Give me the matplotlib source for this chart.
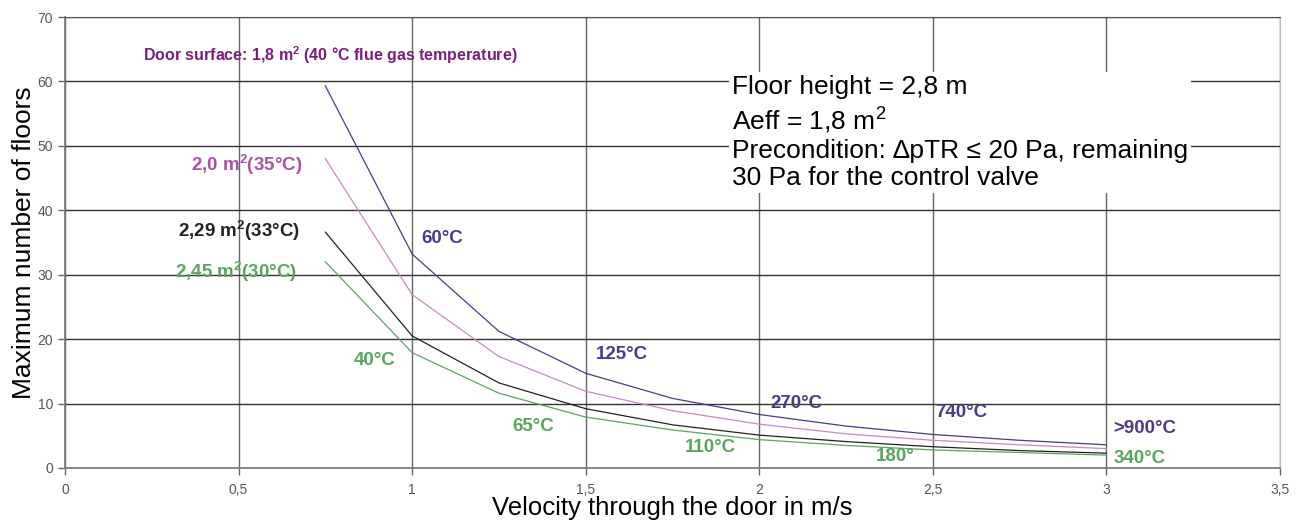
import matplotlib
matplotlib.use("Agg")
import matplotlib.pyplot as plt
from matplotlib.ticker import FuncFormatter

plt.rcParams['font.family'] = ['Liberation Sans', 'DejaVu Sans']

velocity = [0.75, 1.0, 1.25, 1.5, 1.75, 2.0, 2.25, 2.5, 2.75, 3.0]
floors_18 = [59.3, 33.2, 21.2, 14.7, 10.8, 8.3, 6.5, 5.2, 4.3, 3.6]
floors_20 = [48.0, 26.9, 17.3, 11.9, 8.9, 6.8, 5.3, 4.3, 3.6, 3.0]
floors_229 = [36.6, 20.5, 13.2, 9.2, 6.7, 5.1, 4.1, 3.3, 2.7, 2.3]
floors_245 = [32.0, 17.9, 11.6, 7.9, 5.9, 4.4, 3.5, 2.8, 2.4, 2.0]

x_ticks = [0, 0.5, 1, 1.5, 2, 2.5, 3, 3.5]
y_ticks = [0, 10, 20, 30, 40, 50, 60, 70]

upper_temps = ["60°C", "125°C", "270°C", "740°C", ">900°C"]
upper_pos = [(1.026, 35.6), (1.530, 17.6), (2.032, 10.0), (2.507, 8.6), (3.02, 6.2)]
lower_temps = ["40°C", "65°C", "110°C", "180°", "340°C"]
lower_pos = [(0.833, 16.7), (1.288, 6.5), (1.787, 3.2), (2.337, 1.8), (3.02, 1.5)]

c_purple = '#4a3b8c'
c_pink = '#c58ac5'
c_green = '#5aa55e'
c_black = '#222222'

fig = plt.figure(figsize=(13.06, 5.25), dpi=100)
ax = fig.add_axes([0.0498, 0.1086, 0.9303, 0.859])

ax.plot(velocity, floors_18, color=c_purple, lw=0.9, zorder=3)
ax.plot(velocity, floors_20, color=c_pink, lw=0.9, zorder=3)
ax.plot(velocity, floors_229, color=c_black, lw=0.9, zorder=3)
ax.plot(velocity, floors_245, color=c_green, lw=0.9, zorder=3)

ax.set_xlim(0, 3.5)
ax.set_ylim(0, 70)
ax.set_xticks(x_ticks)
ax.set_yticks(y_ticks)
fmt = FuncFormatter(lambda v, p: ('%g' % v).replace('.', ','))
ax.xaxis.set_major_formatter(fmt)
ax.yaxis.set_major_formatter(fmt)
ax.tick_params(axis='both', labelsize=10, colors='#666666', labelcolor='#555555',
               length=5, width=1, direction='out')
ax.tick_params(axis='x', pad=6)

ax.grid(axis='y', color='#333333', lw=1.0, zorder=1)
ax.grid(axis='x', color='#666666', lw=1.0, zorder=1)
for s in ['left', 'bottom']:
    ax.spines[s].set_color('#777777')
    ax.spines[s].set_linewidth(1.2)
ax.spines['top'].set_color('#555555')
ax.spines['right'].set_color('#bbbbbb')

ax.set_xlabel("Velocity through the door in m/s", fontsize=18.5)
ax.set_ylabel("Maximum number of floors", fontsize=19)
ax.xaxis.set_label_coords(0.5, -0.062)
ax.yaxis.set_label_coords(-0.024, 0.5)

lab_fs = 13.5
ax.text(0.225, 64.1, "Door surface: 1,8 m$^\\mathregular{2}$ (40 °C flue gas temperature)",
        color='#7a1f7a', fontsize=11.5, fontweight='bold', va='center', ha='left', zorder=5)
ax.text(0.683, 47.1, "2,0 m$^\\mathregular{2}$(35°C)", color='#a655a6', fontsize=lab_fs,
        fontweight='bold', ha='right', va='center', zorder=5)
ax.text(0.677, 36.9, "2,29 m$^\\mathregular{2}$(33°C)", color=c_black, fontsize=lab_fs,
        fontweight='bold', ha='right', va='center', zorder=5)
ax.text(0.669, 30.5, "2,45 m$^\\mathregular{2}$(30°C)", color=c_green, fontsize=lab_fs,
        fontweight='bold', ha='right', va='center', zorder=2)

for t, (x, y) in zip(upper_temps, upper_pos):
    ax.text(x, y, t, color=c_purple, fontsize=lab_fs, fontweight='bold', ha='left',
            va='center', zorder=5)
for t, (x, y) in zip(lower_temps, lower_pos):
    ax.text(x, y, t, color=c_green, fontsize=lab_fs, fontweight='bold', ha='left',
            va='center', zorder=5)

ax.text(1.922, 61.0,
        "Floor height = 2,8 m\nAeff = 1,8 m$^\\mathregular{2}$\nPrecondition: \u2206pTR \u2264 20 Pa, remaining\n30 Pa for the control valve",
        fontsize=19, color='black', ha='left', va='top', linespacing=1.2,
        bbox=dict(facecolor='white', edgecolor='none', pad=2), zorder=6)

fig.savefig("out.png", dpi=100)
